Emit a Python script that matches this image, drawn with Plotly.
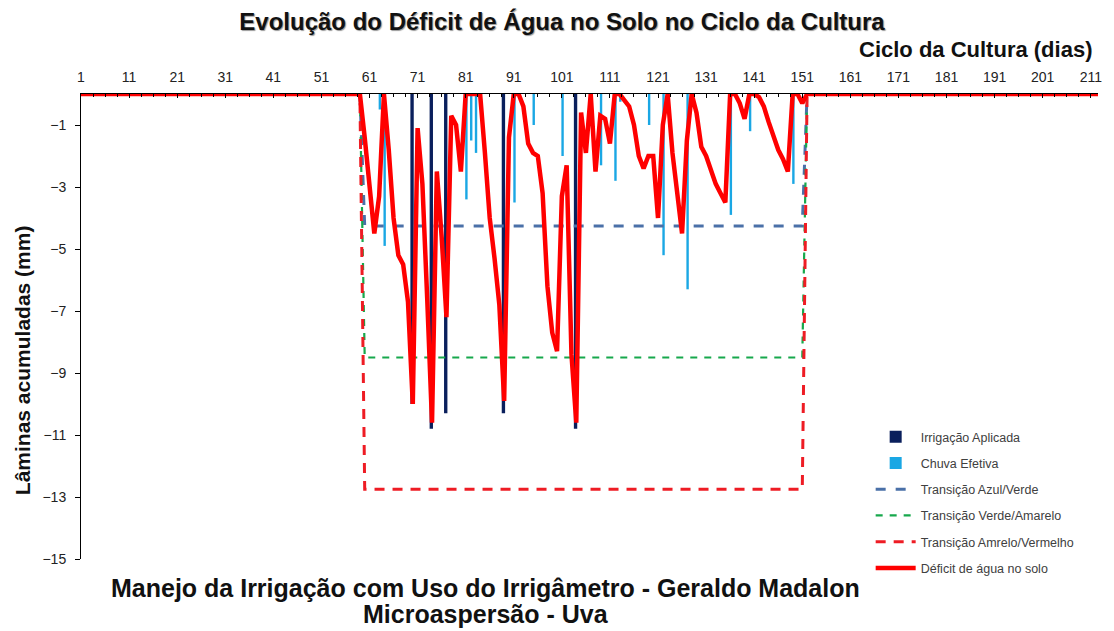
import plotly.graph_objects as go

# ---------------- data ----------------
dias = list(range(1, 214))  # dias do ciclo da cultura

# déficit de água no solo (mm), dias 1..213
deficit_59_152 = [
    0.0,                                   # 59
    -1.4, -3.0, -4.5, -3.3, 0.0,           # 60-64
    -1.8, -4.0, -5.2, -5.5, -6.7,          # 65-69
    -10.0, -1.1, -2.9, -6.6, -10.6,        # 70-74
    -2.5, -4.6, -7.2, -0.7, -1.0,          # 75-79
    -2.5, 0.0, 0.0, 0.0, 0.0,              # 80-84
    -1.9, -4.0, -5.3, -6.8, -9.9,          # 85-89
    -1.4, 0.0, 0.0, -0.4, -1.6,            # 90-94
    -1.9, -2.0, -3.2, -6.2, -7.7,          # 95-99
    -8.3, -3.3, -2.3, -8.4, -10.6,         # 100-104
    -0.6, -1.9, 0.0, -2.5, -0.7,           # 105-109
    -0.8, -1.6, 0.0, 0.0, -0.2,            # 110-114
    -0.4, -1.0, -2.0, -2.4, -2.0,          # 115-119
    -2.0, -4.0, -1.0, 0.0, -1.9,           # 120-124
    -3.3, -4.5, -1.5, 0.0, -0.6,           # 125-129
    -1.7, -2.0, -2.4, -2.9, -3.2,          # 130-134
    -3.5, 0.0, 0.0, -0.3, -0.8,            # 135-139
    0.0, 0.0, -0.1, -0.4, -0.9,            # 140-144
    -1.4, -1.8, -2.1, -2.5, 0.0,           # 145-149
    0.0, -0.3, 0.0,                        # 150-152
]
deficit = [0.0] * 58 + deficit_59_152 + [0.0] * 61

# Irrigação aplicada (mm)
irrig_dias = [70, 74, 77, 89, 104]
irrig_mm = [-10.0, -10.8, -10.3, -10.3, -10.8]

# Chuva efetiva (mm)
chuva_dias = [63, 64, 81, 82, 83, 91, 95, 101, 109, 112, 113, 119, 122, 127, 136, 140, 149]
chuva_mm = [-0.5, -4.9, -3.4, -1.5, -1.9, -3.5, -1.0, -2.0, -2.3, -2.8, -0.25, -1.0, -5.2, -6.3, -3.9, -1.2, -2.9]

# limites de transição (mm), válidos no ciclo irrigado
inicio_ciclo = 60
fim_ciclo = 151
azul_verde = -4.26
verde_amarelo = -8.5
amarelo_vermelho = -12.75


def serie_limite(valor):
    return [valor if inicio_ciclo <= d <= fim_ciclo else 0.0 for d in dias]


y_ticks = [-1, -3, -5, -7, -9, -11, -13, -15]
x_ticks = list(range(1, 212, 10))

FONT = "Liberation Sans, Arial, sans-serif"

# the page body adds an 8px margin; the figure is sized to fit the window
W, H = 1106, 623
OFF = 8
PL, PT, PW, PH = 81 - OFF, 94 - OFF, 1020, 465  # plot area in figure pixels


def px(xp):
    return (xp - OFF - PL) / PW


def py(yp):
    return (PT + PH - (yp - OFF)) / PH


fig = go.Figure()

fig.add_trace(go.Bar(
    x=irrig_dias, y=irrig_mm, name="Irrigação Aplicada",
    marker=dict(color="#0a1f5c", line=dict(width=0)),
    width=0.7, offset=-0.5, legendgroup="g1",
))
fig.add_trace(go.Bar(
    x=chuva_dias, y=chuva_mm, name="Chuva Efetiva",
    marker=dict(color="#1aa7e4", line=dict(width=0)),
    width=0.5, offset=-0.1, legendgroup="g2",
))
fig.add_trace(go.Scatter(
    x=dias, y=serie_limite(azul_verde), mode="lines", name="Transição Azul/Verde",
    line=dict(color="#4a70a8", width=3, dash="10px,10px"), legendgroup="g3",
))
fig.add_trace(go.Scatter(
    x=dias, y=serie_limite(verde_amarelo), mode="lines", name="Transição Verde/Amarelo",
    line=dict(color="#17a84c", width=2.2, dash="7px,7px"), legendgroup="g4",
))
fig.add_trace(go.Scatter(
    x=dias, y=serie_limite(amarelo_vermelho), mode="lines", name="Transição Amrelo/Vermelho",
    line=dict(color="#ee1c24", width=3, dash="10px,8px"), legendgroup="g5",
))
fig.add_trace(go.Scatter(
    x=dias, y=deficit, mode="lines", name="Déficit de água no solo",
    line=dict(color="#ff0000", width=4.5), legendgroup="g6",
))

fig.update_layout(
    width=W, height=H,
    margin=dict(l=PL, r=W - PL - PW, t=PT, b=H - PT - PH, pad=0),
    paper_bgcolor="white", plot_bgcolor="white",
    font=dict(family=FONT, color="#111111"),
    barmode="overlay",
    showlegend=True,
    legend=dict(
        x=px(873), y=py(422), xanchor="left", yanchor="top",
        font=dict(family=FONT, size=12.5, color="#404040"),
        itemwidth=40, tracegroupgap=7, bgcolor="rgba(0,0,0,0)",
        traceorder="grouped",
    ),
    title=dict(
        text="<b>Evolução do Déficit de Água no Solo no Ciclo da Cultura</b>",
        x=(562 - OFF) / W, y=1 - (22 - OFF) / H, xanchor="center", yanchor="middle",
        font=dict(family=FONT, size=24, color="#111111", shadow="1px 1px 1px #999999"),
    ),
    xaxis=dict(
        side="top", range=[1, 212.5], showline=True, linecolor="black", linewidth=1,
        tickvals=x_ticks, ticks="inside", ticklen=4, tickcolor="black",
        minor=dict(tick0=1, dtick=2.5, ticks="inside", ticklen=3, tickcolor="black"),
        tickfont=dict(family=FONT, size=14, color="#222222"),
        showgrid=False, zeroline=False, ticklabelstandoff=5,
    ),
    yaxis=dict(
        range=[-15, 0], showline=True, linecolor="black", linewidth=1,
        tickvals=y_ticks, ticks="outside", ticklen=5, tickcolor="black",
        tickfont=dict(family=FONT, size=14, color="#222222"),
        showgrid=False, zeroline=False, ticklabelstandoff=6,
    ),
    annotations=[
        dict(text="<b>Ciclo da Cultura (dias)</b>", xref="paper", yref="paper",
             x=px(1097), y=py(49), xanchor="right", yanchor="middle",
             showarrow=False, font=dict(family=FONT, size=22, color="#111111")),
        dict(text="<b>Lâminas acumuladas (mm)</b>", xref="paper", yref="paper",
             x=px(22), y=py(360), xanchor="center", yanchor="middle",
             textangle=-90, showarrow=False, font=dict(family=FONT, size=21, color="#111111")),
        dict(text="<b>Manejo da Irrigação com Uso do Irrigâmetro - Geraldo Madalon</b>",
             xref="paper", yref="paper", x=px(487), y=py(588),
             xanchor="center", yanchor="middle", showarrow=False,
             font=dict(family=FONT, size=25, color="#111111")),
        dict(text="<b>Microaspersão - Uva</b>",
             xref="paper", yref="paper", x=px(487), y=py(614),
             xanchor="center", yanchor="middle", showarrow=False,
             font=dict(family=FONT, size=25, color="#111111")),
    ],
)

fig.write_html("out.html")
